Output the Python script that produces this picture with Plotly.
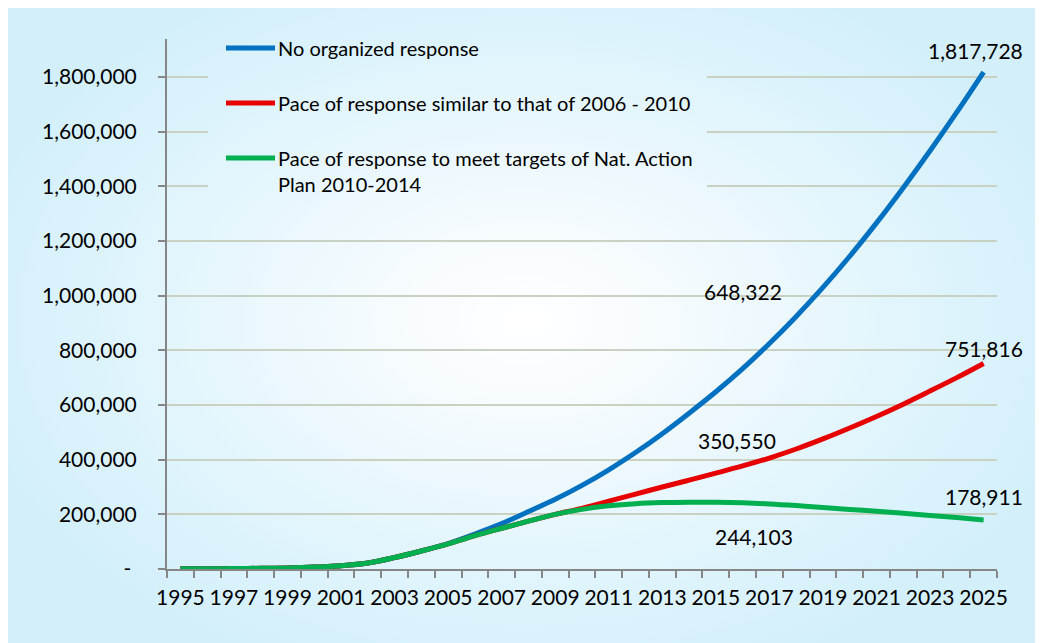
import base64
import plotly.graph_objects as go

# ---------------- data ----------------
years = list(range(1995, 2026))
no_response = [500, 900, 1500, 2500, 4000, 7000, 12000, 22000, 42000, 66000,
               93000, 128000, 166000, 210000, 255000, 306000, 363000, 426000, 495000, 570000,
               648322, 733000, 825000, 924000, 1030000, 1144000, 1266000, 1395000, 1530000, 1671000,
               1817728]
pace_2006 = [500, 900, 1500, 2500, 4000, 7000, 12000, 22000, 42000, 66000,
             92000, 122000, 149000, 175000, 200000, 222000, 248000, 274000, 300000, 325000,
             350550, 377000, 406000, 439000, 476000, 516000, 558000, 603000, 651000, 700000,
             751816]
pace_nap = [500, 900, 1500, 2500, 4000, 7000, 12000, 22000, 42000, 66000,
            92000, 122000, 149000, 175000, 200000, 218000, 231000, 239000, 243000, 244500,
            244103, 242000, 238000, 232000, 225000, 218000, 211000, 204000, 196000, 188000,
            178911]
series_names = ["No organized response",
                "Pace of response similar to that of 2006 - 2010",
                "Pace of response to meet targets of Nat. Action<br>Plan 2010-2014"]
series_colors = ["#0070c0", "#e60000", "#00b050"]
y_tickvals = [0, 200000, 400000, 600000, 800000, 1000000, 1200000, 1400000, 1600000, 1800000]
y_ticktext = ["-\u00a0", "200,000", "400,000", "600,000", "800,000", "1,000,000",
              "1,200,000", "1,400,000", "1,600,000", "1,800,000"]
x_tickvals = list(range(1995, 2026, 2))
# labelled points: (series index, year, value, xshift, yshift)
point_labels = [(0, 2015, 648322, 27, 100), (1, 2015, 350550, 21, 33), (2, 2015, 244103, 38, -34),
                (0, 2025, 1817728, -8, 22), (1, 2025, 751816, 0, 15), (2, 2025, 178911, 0, 24)]

# ---------------- geometry ----------------
FW, FH = 1040, 643
ML, MR, MT, MB = 167, 43, 39, 74
PW, PH = FW - ML - MR, FH - MT - MB
YMAX = 1938700
FONT = "Lato, 'Open Sans', sans-serif"
FS = 21
LFS = 20


def px_x(px):
    return (px - ML) / PW


def px_y(py):
    return (FH - MB - py) / PH


# radial gradient background (SVG)
BX, BY, BW, BH = 8, 8, 1027, 640


def grad_src(vx, vy, vw, vh):
    svg = (f'<svg xmlns="http://www.w3.org/2000/svg" width="{vw}" height="{vh}" '
           f'viewBox="{vx} {vy} {vw} {vh}" preserveAspectRatio="none">'
           '<defs><radialGradient id="g" gradientUnits="userSpaceOnUse" cx="517" cy="312" r="580" '
           'gradientTransform="translate(517 312) scale(1 0.66) translate(-517 -312)">'
           '<stop offset="0" stop-color="#ffffff"/>'
           '<stop offset="0.25" stop-color="#f5fbfe"/>'
           '<stop offset="0.7" stop-color="#dff4fc"/>'
           '<stop offset="1" stop-color="#d2effa"/>'
           '</radialGradient></defs>'
           f'<rect x="0" y="0" width="{BW}" height="{BH}" fill="url(#g)"/></svg>')
    return "data:image/svg+xml;base64," + base64.b64encode(svg.encode()).decode()


fig = go.Figure()
for name, vals, col in zip(series_names, [no_response, pace_2006, pace_nap], series_colors):
    fig.add_trace(go.Scatter(x=years, y=vals, mode="lines", name=name,
                             line=dict(color=col, width=5, shape="spline", smoothing=1),
                             showlegend=False, hoverinfo="x+y"))

annotations = []
for si, yr, val, dx, dy in point_labels:
    annotations.append(dict(x=yr, y=val, xref="x", yref="y", text=f"{val:,}", showarrow=False,
                            xshift=dx, yshift=dy, font=dict(family=FONT, size=FS, color="#000")))

# legend (manual, Excel-like)
leg_rows = [48, 103, 158]
shapes = []
for row, name, col in zip(leg_rows, series_names, series_colors):
    shapes.append(dict(type="line", xref="paper", yref="paper", layer="above",
                       x0=px_x(226), x1=px_x(275), y0=px_y(row), y1=px_y(row),
                       line=dict(color=col, width=5)))
    annotations.append(dict(x=px_x(276), y=px_y(row - 14), xref="paper", yref="paper",
                            xanchor="left", yanchor="top", align="left", text=name,
                            showarrow=False, font=dict(family=FONT, size=LFS, color="#000")))

images = [
    dict(source=grad_src(0, 0, BW, BH), xref="paper", yref="paper", x=px_x(BX), y=px_y(BY),
         sizex=BW / PW, sizey=BH / PH, xanchor="left", yanchor="top", sizing="stretch", layer="below"),
    dict(source=grad_src(208 - BX, 30 - BY, 499, 180), xref="paper", yref="paper", x=px_x(208), y=px_y(30),
         sizex=499 / PW, sizey=180 / PH, xanchor="left", yanchor="top", sizing="stretch", layer="above"),
]

fig.update_layout(
    width=FW, height=FH, margin=dict(l=ML, r=MR, t=MT, b=MB),
    paper_bgcolor="#ffffff", plot_bgcolor="rgba(0,0,0,0)",
    font=dict(family=FONT, size=FS, color="#000"),
    showlegend=False, annotations=annotations, shapes=shapes, images=images,
    xaxis=dict(range=[1994.5, 2025.5], tickvals=x_tickvals, ticktext=[str(v) for v in x_tickvals],
               ticks="", showgrid=False, zeroline=False, showline=True, linecolor="#868686", linewidth=2,
               ticklabelstandoff=9, tickfont=dict(family=FONT, size=FS, color="#000"),
               minor=dict(tick0=1994.5, dtick=1, ticks="outside", ticklen=7, tickwidth=1.5,
                          tickcolor="#868686", showgrid=False)),
    yaxis=dict(range=[0, YMAX], tickvals=y_tickvals, ticktext=y_ticktext, ticks="outside", ticklen=7,
               tickwidth=1.5, tickcolor="#868686", showgrid=True, gridcolor="#c9d2c2", gridwidth=1.5,
               zeroline=False, showline=True, linecolor="#868686", linewidth=2,
               ticklabelstandoff=17, tickfont=dict(family=FONT, size=FS, color="#000")),
)
fig.write_html("out.html")
